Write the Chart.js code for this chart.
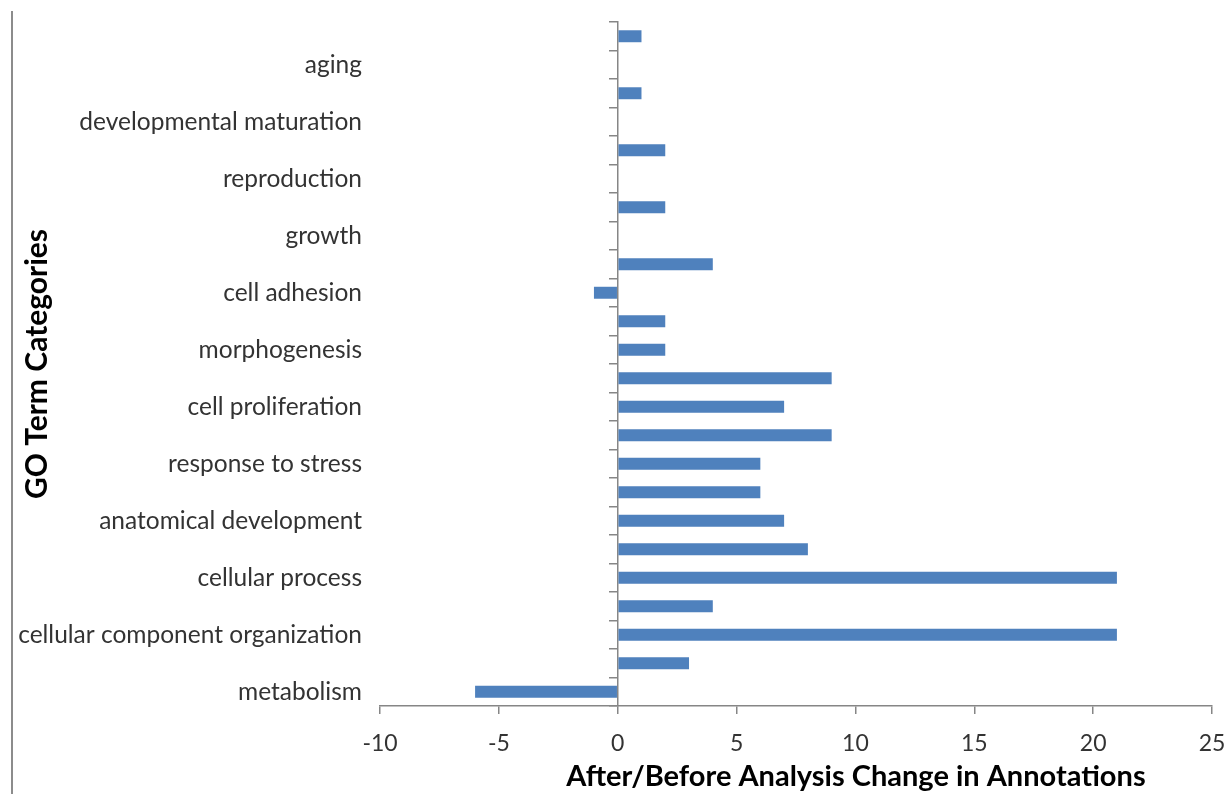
<!DOCTYPE html>
<html>
<head>
<meta charset="utf-8">
<script src="https://cdn.jsdelivr.net/npm/chart.js@4.4.1/dist/chart.umd.min.js"></script>
<style>
    html, body { margin: 0; padding: 0; background: #fff; }
</style>
</head>
<body>
<canvas id="main-chart" width="1230" height="794"></canvas>
<script>
// GO categories, top to bottom as in the picture (Excel shows every 2nd name)
const categories = [
    '', 'aging',
    '', 'developmental maturation',
    '', 'reproduction',
    '', 'growth',
    '', 'cell adhesion',
    '', 'morphogenesis',
    '', 'cell proliferation',
    '', 'response to stress',
    '', 'anatomical development',
    '', 'cellular process',
    '', 'cellular component organization',
    '', 'metabolism'
];

// after/before change in annotations, same order
const changes = [
    1, null,
    1, null,
    2, null,
    2, null,
    4, -1,
    2, 2,
    9, 7,
    9, 6,
    6, 7,
    8, 21,
    4, 21,
    3, -6
];

const xMin = -10;
const xMax = 25;
const xStep = 5;

const yTitle = 'GO Term Categories';
const xTitle = 'After/Before Analysis Change in Annotations';

const axisGray = '#868686';
const textGray = '#333333';

Chart.defaults.font.family = 'Lato';

// grey rule down the left edge of the original figure
const frameLine = {
    id: 'frameLine',
    beforeDraw(chart) {
        const ctx = chart.ctx;
        ctx.save();
        ctx.strokeStyle = '#8c8c8c';
        ctx.lineWidth = 2;
        ctx.beginPath();
        ctx.moveTo(12, 11);
        ctx.lineTo(12, chart.height);
        ctx.stroke();
        ctx.restore();
    }
};

// x title sits a bit right of the plot centre, like Excel placed it
const xTitlePlugin = {
    id: 'xTitle',
    afterDraw(chart) {
        const ctx = chart.ctx;
        const area = chart.chartArea;
        ctx.save();
        ctx.font = 'bold 29px Lato';
        ctx.fillStyle = '#000';
        ctx.textAlign = 'center';
        ctx.textBaseline = 'middle';
        ctx.fillText(xTitle, area.left + (area.right - area.left) * 0.572, 777);
        ctx.restore();
    }
};

new Chart(document.getElementById('main-chart'), {
    type: 'bar',
    data: {
        labels: categories,
        datasets: [{
            data: changes,
            backgroundColor: '#4F81BD',
            borderWidth: 0,
            barPercentage: 0.42,
            categoryPercentage: 1
        }]
    },
    options: {
        indexAxis: 'y',
        responsive: false,
        animation: false,
        layout: { padding: { left: 14, top: 22, right: 18, bottom: 28 } },
        plugins: {
            legend: { display: false },
            tooltip: { enabled: false }
        },
        scales: {
            x: {
                min: xMin,
                max: xMax,
                ticks: { stepSize: xStep, color: textGray, font: { size: 23 }, padding: 16 },
                grid: { drawOnChartArea: false, drawTicks: true, tickLength: 8, color: axisGray, lineWidth: 1.5 },
                border: { display: true, color: axisGray, width: 1.5 },
                afterFit(scale) {
                    scale.height = 60;
                    scale.paddingLeft = 0;
                    scale.paddingRight = 0;
                }
            },
            y: {
                ticks: { autoSkip: false, color: textGray, font: { size: 24.5 }, padding: 18 },
                grid: { display: false, drawTicks: false },
                border: { display: false },
                title: {
                    display: true,
                    text: yTitle,
                    color: '#000',
                    font: { size: 30, weight: 'bold' },
                    padding: { top: 5, bottom: 0 }
                },
                afterFit(scale) {
                    scale.width = 366;
                    scale.paddingTop = 0;
                    scale.paddingBottom = 0;
                }
            },
            // vertical axis line at zero with the category tick marks
            yZero: {
                type: 'category',
                position: { x: 0 },
                offset: true,
                ticks: { display: false },
                grid: { offset: true, drawOnChartArea: false, drawTicks: true, tickLength: 8, color: axisGray, lineWidth: 1.5 },
                border: { display: true, color: axisGray, width: 1.5 },
                afterFit(scale) {
                    scale.paddingTop = 0;
                    scale.paddingBottom = 0;
                }
            }
        }
    },
    plugins: [frameLine, xTitlePlugin]
});
</script>
</body>
</html>
